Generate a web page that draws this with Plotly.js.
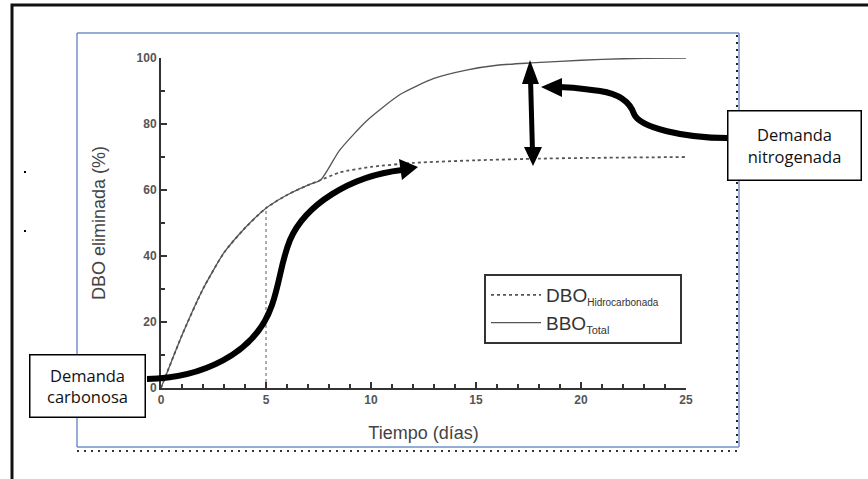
<!DOCTYPE html>
<html><head><meta charset="utf-8">
<script src="https://cdn.plot.ly/plotly-3.0.1.min.js"></script>
<style>html,body{margin:0;padding:0;background:#fff;}#chart{width:868px;height:479px;}</style>
</head><body><div id="chart"></div>
<script>
// ---- data ----
const totalDays = [0,1,2,3,4,5,6,7,7.6,8.5,9.8,11.4,13,14.6,16,17.6,19,21,23,25];
const totalBOD  = [0,16,30,41,48.5,54.5,58.5,61.5,63,72,81,89,93.8,96.4,97.8,98.5,99,99.6,99.9,100];
const carbDays  = [0,1,2,3,4,5,6,7,7.6,8.5,10,12,15,18,20,25];
const carbBOD   = [0,16,30,41,48.5,54.5,58.5,61.5,63,65.3,67,68.2,69,69.5,69.7,70];
const refDay = [5,5];
const refBOD = [0,54.5];
const xTicks = [0,5,10,15,20,25];
const yTicks = [0,20,40,60,80,100];
const seriesNames = ['DBO<sub><span style="font-size:10px">Hidrocarbonada</span></sub>&nbsp;&nbsp;&nbsp;','BBO<sub><span style="font-size:11px">Total</span></sub>'];

// pixel -> paper helpers for decorations
const L=161, R=686, T=58, B=388;
const X = px => (px-L)/(R-L);
const Y = py => (B-py)/(B-T);
const P = (px,py) => X(px).toFixed(4)+','+Y(py).toFixed(4);

const traces = [
  {x: carbDays, y: carbBOD, mode:'lines', name: seriesNames[0],
   line:{color:'#555', width:1.8, dash:'3px,3px', shape:'spline', smoothing:0.6}},
  {x: totalDays, y: totalBOD, mode:'lines', name: seriesNames[1],
   line:{color:'#555', width:1.3, shape:'spline', smoothing:0.6}},
  {x: refDay, y: refBOD, mode:'lines', showlegend:false,
   line:{color:'#777', width:1.2, dash:'dot'}}
];

const black = {color:'#000', width:0};
const shapes = [
  {type:'rect', xref:'paper', yref:'paper', x0:X(12), x1:X(900), y0:Y(5), y1:Y(520), line:{color:'#111', width:3}, layer:'below'},
  {type:'line', xref:'paper', yref:'paper', x0:X(77), x1:X(77), y0:Y(33), y1:Y(447), line:{color:'#7090c8', width:1.5}},
  {type:'line', xref:'paper', yref:'paper', x0:X(77), x1:X(739), y0:Y(33), y1:Y(33), line:{color:'#7090c8', width:1.5}},
  {type:'line', xref:'paper', yref:'paper', x0:X(739), x1:X(739), y0:Y(33), y1:Y(447), line:{color:'#7090c8', width:1.5}},
  {type:'line', xref:'paper', yref:'paper', x0:X(77), x1:X(739), y0:Y(447), y1:Y(447), line:{color:'#7090c8', width:1.5}},
  {type:'line', xref:'paper', yref:'paper', x0:X(737), x1:X(737), y0:Y(35), y1:Y(447), line:{color:'#222', width:2, dash:'2px,5px'}},
  {type:'line', xref:'paper', yref:'paper', x0:X(77), x1:X(739), y0:Y(451), y1:Y(451), line:{color:'#333', width:2, dash:'2px,5px'}},
  {type:'rect', xref:'paper', yref:'paper', x0:X(24), x1:X(26), y0:Y(171), y1:Y(173), fillcolor:'#000', line:{width:0}},
  {type:'rect', xref:'paper', yref:'paper', x0:X(24), x1:X(26), y0:Y(230), y1:Y(232), fillcolor:'#000', line:{width:0}},
  // carbonosa curved arrow
  {type:'path', xref:'paper', yref:'paper',
   path:'M '+P(147,379)+' C '+P(200,378)+' '+P(255,355)+' '+P(272,305)+' C '+P(280,282)+' '+P(281,262)+' '+P(290,240)+' C '+P(305,205)+' '+P(350,176)+' '+P(402,170),
   line:{color:'#000', width:6}},
  {type:'path', xref:'paper', yref:'paper', path:'M '+P(418,167)+' L '+P(399,159)+' L '+P(402,180)+' Z', fillcolor:'#000', line:black},
  // nitrogenada curved arrow
  {type:'path', xref:'paper', yref:'paper',
   path:'M '+P(727,138)+' C '+P(685,138)+' '+P(640,128)+' '+P(634,114)+' C '+P(630,102)+' '+P(620,94)+' '+P(600,91)+' C '+P(585,89)+' '+P(572,87)+' '+P(556,87),
   line:{color:'#000', width:6}},
  {type:'path', xref:'paper', yref:'paper', path:'M '+P(541,87)+' L '+P(562,78)+' L '+P(562,97)+' Z', fillcolor:'#000', line:black},
  // double arrow
  {type:'line', xref:'paper', yref:'paper', x0:X(530.5), x1:X(532.5), y0:Y(78), y1:Y(152), line:{color:'#000', width:5}},
  {type:'path', xref:'paper', yref:'paper', path:'M '+P(530,60)+' L '+P(522,84)+' L '+P(539,84)+' Z', fillcolor:'#000', line:black},
  {type:'path', xref:'paper', yref:'paper', path:'M '+P(533,166)+' L '+P(524,147)+' L '+P(542,147)+' Z', fillcolor:'#000', line:black}
];

const boxFont = {family:'Open Sans, Noto Sans, sans-serif', size:16.5, color:'#111'};
const annotations = [
  {xref:'paper', yref:'paper', x:X(87.5), y:Y(386), text:'Demanda<br>carbonosa', showarrow:false,
   font:boxFont, bgcolor:'#fff', bordercolor:'#000', borderwidth:1.5, borderpad:0, width:114, height:61, xanchor:'center', yanchor:'middle'},
  {xref:'paper', yref:'paper', x:X(794.5), y:Y(145), text:'Demanda<br>nitrogenada', showarrow:false,
   font:boxFont, bgcolor:'#fff', bordercolor:'#000', borderwidth:1.5, borderpad:0, width:132, height:68, xanchor:'center', yanchor:'middle'}
];

const tickFont = {family:'Liberation Sans Narrow, Arial, sans-serif', size:12, color:'#555', weight:'bold'};
const layout = {
  width:868, height:479,
  margin:{l:L, r:868-R, t:T, b:479-B, pad:0},
  paper_bgcolor:'#fff', plot_bgcolor:'#fff',
  showlegend:true,
  legend:{x:X(484), y:Y(274), xanchor:'left', yanchor:'top', bgcolor:'#fff', bordercolor:'#333', borderwidth:2,
          itemwidth:50, font:{family:'Arial, Liberation Sans, sans-serif', size:19, color:'#333'}, tracegroupgap:4},
  xaxis:{range:[0,25], tickvals:xTicks, ticktext:xTicks.map(String), ticks:'inside', ticklen:6, tickwidth:2, tickcolor:'#333',
         showline:true, linecolor:'#333', linewidth:2, showgrid:false, zeroline:false, tickfont:tickFont,
         minor:{dtick:1, tick0:0, ticks:'inside', ticklen:4, tickwidth:2, tickcolor:'#333', showgrid:false},
         title:{text:'Tiempo (días)', font:{family:'Arial, Liberation Sans, sans-serif', size:18, color:'#444'}, standoff:20}},
  yaxis:{range:[0,100], tickvals:yTicks, ticktext:yTicks.map(String), ticks:'inside', ticklen:6, tickwidth:2, tickcolor:'#333',
         showline:true, linecolor:'#333', linewidth:2, showgrid:false, zeroline:false, tickfont:tickFont,
         minor:{dtick:10, tick0:0, ticks:'inside', ticklen:4, tickwidth:2, tickcolor:'#333', showgrid:false},
         title:{text:'DBO eliminada (%)', font:{family:'Arial, Liberation Sans, sans-serif', size:18, color:'#444'}, standoff:26}},
  shapes: shapes,
  annotations: annotations
};
Plotly.newPlot('chart', traces, layout, {displayModeBar:false, staticPlot:true});
</script></body></html>
